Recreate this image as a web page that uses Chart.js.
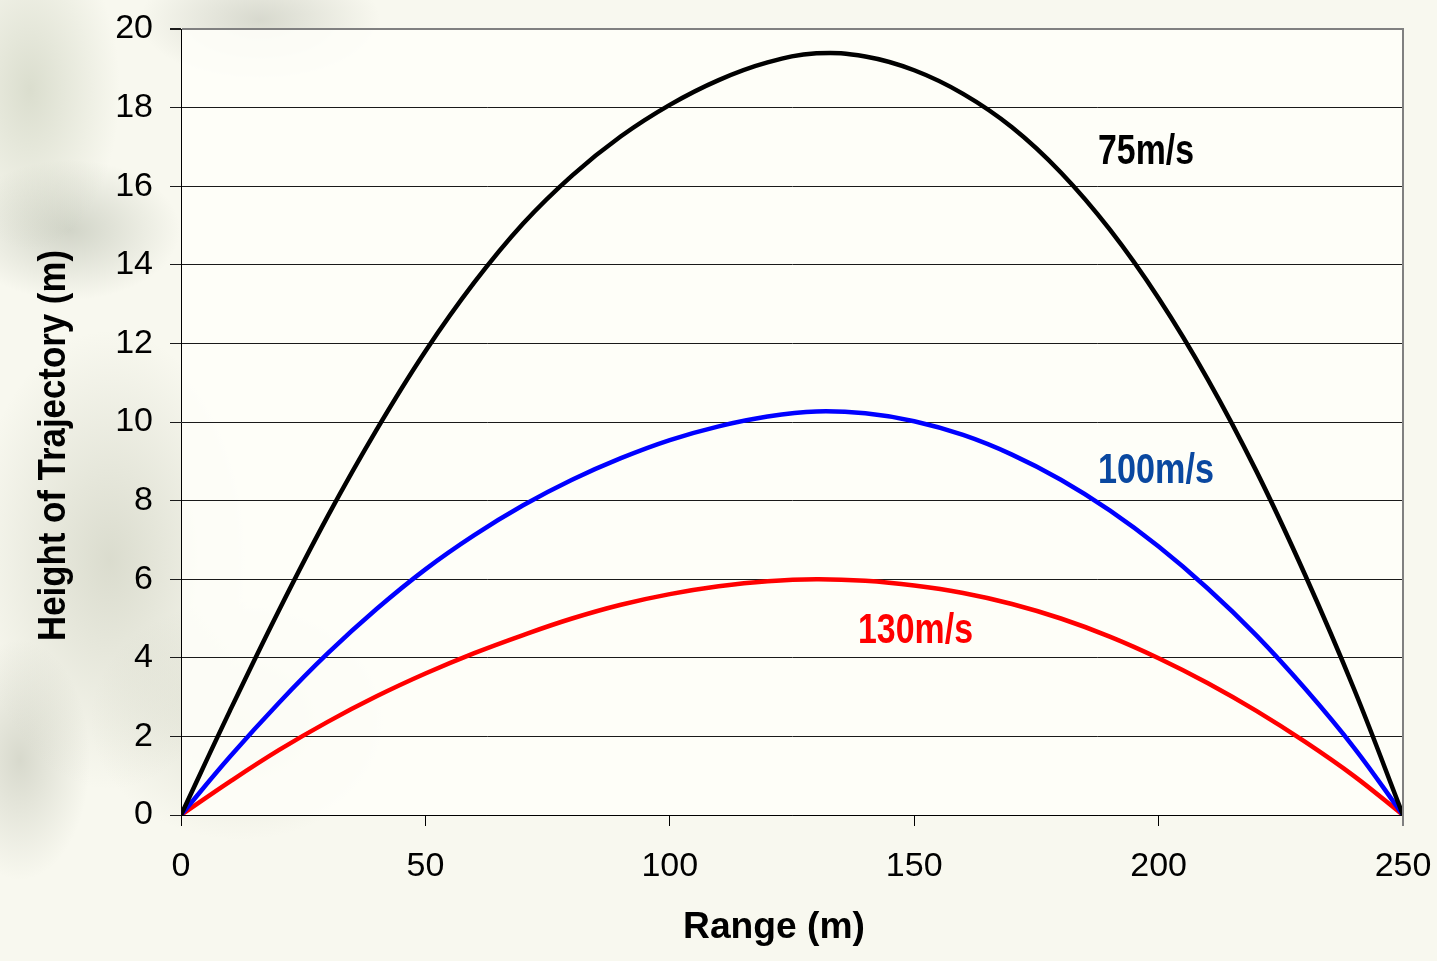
<!DOCTYPE html>
<html>
<head>
<meta charset="utf-8">
<script src="https://cdn.jsdelivr.net/npm/chart.js@4/dist/chart.umd.min.js"></script>
<style>
  html, body { margin: 0; padding: 0; }
  body {
    width: 1437px; height: 961px; overflow: hidden;
    background:
      radial-gradient(ellipse 90px 160px at 30px 90px, rgba(150,160,130,0.30), rgba(150,160,130,0) 100%),
      radial-gradient(ellipse 120px 60px at 260px 20px, rgba(140,145,130,0.30), rgba(140,145,130,0) 100%),
      radial-gradient(ellipse 110px 70px at 70px 230px, rgba(120,130,110,0.30), rgba(120,130,110,0) 100%),
      radial-gradient(ellipse 140px 230px at 110px 560px, rgba(150,155,130,0.30), rgba(150,155,130,0) 100%),
      radial-gradient(ellipse 70px 120px at 20px 760px, rgba(140,145,125,0.30), rgba(140,145,125,0) 100%),
      radial-gradient(ellipse 150px 120px at 240px 720px, rgba(160,165,140,0.25), rgba(160,165,140,0) 100%),
      #F8F8EF;
  }
  #wrap { position: absolute; left: 0; top: 0; width: 1437px; height: 961px; }
</style>
</head>
<body>
<div id="wrap"><canvas id="c"></canvas></div>
<script>
// ---- data ----
const rangeX = [0, 10, 20, 30, 40, 50, 60, 70, 80, 90, 100, 110, 120, 130, 140, 150, 160, 170, 180, 190, 200, 210, 220, 230, 240, 250];
const height75 = [0, 2.65, 5.2, 7.6, 9.8, 11.8, 13.55, 15.05, 16.27, 17.27, 18.07, 18.7, 19.15, 19.38, 19.3, 18.95, 18.35, 17.5, 16.35, 14.9, 13.15, 11.1, 8.75, 6.1, 3.2, 0];
const height100 = [0, 1.48, 2.85, 4.11, 5.24, 6.25, 7.12, 7.88, 8.53, 9.08, 9.54, 9.89, 10.14, 10.27, 10.22, 10.02, 9.67, 9.17, 8.53, 7.75, 6.83, 5.77, 4.57, 3.21, 1.71, 0];
const height130 = [0, 0.85, 1.65, 2.37, 3.02, 3.6, 4.12, 4.58, 5.0, 5.35, 5.62, 5.82, 5.95, 6.0, 5.96, 5.84, 5.65, 5.37, 5.0, 4.54, 3.99, 3.36, 2.65, 1.86, 0.99, 0];
const seriesNames = ['75m/s', '100m/s', '130m/s'];
const xTicks = [0, 50, 100, 150, 200, 250];
const yTicks = [0, 2, 4, 6, 8, 10, 12, 14, 16, 18, 20];
const xTitle = 'Range (m)';
const yTitle = 'Height of Trajectory (m)';
// label anchor points (data coords: left edge x, baseline y)
const labelX = [187.6, 187.6, 138.5];
const labelY = [16.56, 8.45, 4.38];

const toPts = ys => rangeX.map((x, i) => ({ x: x, y: ys[i] }));

function drawScaled(ctx, text, x, y, size, color, width, align, rot) {
  ctx.save();
  ctx.font = 'bold ' + size + 'px "Liberation Sans", Arial, sans-serif';
  const w = ctx.measureText(text).width;
  ctx.translate(x, y);
  if (rot) ctx.rotate(rot);
  ctx.scale(width / w, 1);
  ctx.textAlign = align;
  ctx.textBaseline = 'alphabetic';
  ctx.fillStyle = color;
  ctx.fillText(text, 0, 0);
  ctx.restore();
}

const decor = {
  id: 'decor',
  beforeDraw(chart) {
    const { ctx, chartArea: a } = chart;
    ctx.save();
    ctx.fillStyle = 'rgba(254,254,248,0.9)';
    ctx.fillRect(a.left, a.top, a.right - a.left, a.bottom - a.top);
    ctx.restore();
  },
  afterDatasetsDraw(chart) {
    const { ctx, chartArea: a, scales } = chart;
    ctx.save();
    ctx.strokeStyle = '#808080';
    ctx.lineWidth = 2;
    ctx.beginPath();
    ctx.moveTo(a.right, a.top - 1);
    ctx.lineTo(a.right, a.bottom + 11);
    ctx.stroke();
    ctx.restore();
    const colors = ['#000000', '#0A48A0', '#FF0000'];
    const widths = [96, 116, 115];
    seriesNames.forEach((n, i) => {
      drawScaled(ctx, n, scales.x.getPixelForValue(labelX[i]), scales.y.getPixelForValue(labelY[i]),
        43, colors[i], widths[i], 'left', 0);
    });
    drawScaled(ctx, xTitle, 774, 938, 36, '#000', 182, 'center', 0);
    drawScaled(ctx, yTitle, 65, 445.5, 39.5, '#000', 391, 'center', -Math.PI / 2);
  }
};

const zeroPad = s => { s.paddingLeft = 0; s.paddingRight = 0; s.paddingTop = 0; s.paddingBottom = 0; };

new Chart(document.getElementById('c'), {
  type: 'line',
  data: {
    datasets: [
      { label: seriesNames[0], data: toPts(height75), borderColor: '#000000', borderWidth: 4.5 },
      { label: seriesNames[1], data: toPts(height100), borderColor: '#0000FF', borderWidth: 4.5 },
      { label: seriesNames[2], data: toPts(height130), borderColor: '#FF0000', borderWidth: 4.5 }
    ].map(d => Object.assign(d, { pointRadius: 0, fill: false, tension: 0.4 }))
  },
  options: {
    responsive: true,
    maintainAspectRatio: false,
    animation: false,
    events: [],
    layout: { padding: { left: 0, top: 29, right: 34, bottom: 0 } },
    plugins: { legend: { display: false }, tooltip: { enabled: false }, title: { display: false } },
    scales: {
      x: {
        type: 'linear', min: 0, max: 250,
        afterBuildTicks: s => { s.ticks = xTicks.map(v => ({ value: v })); },
        afterFit: s => { s.height = 146; zeroPad(s); },
        grid: { drawOnChartArea: false, drawTicks: true, tickLength: 11, tickColor: '#000', tickWidth: 1 },
        border: { display: true, color: '#000', width: 1 },
        ticks: { color: '#000', padding: 20, maxRotation: 0, autoSkip: false,
                 font: { family: '"Liberation Sans", Arial, sans-serif', size: 34 } }
      },
      y: {
        type: 'linear', min: 0, max: 20,
        afterBuildTicks: s => { s.ticks = yTicks.map(v => ({ value: v })); },
        afterFit: s => { s.width = 181; zeroPad(s); },
        grid: {
          drawOnChartArea: true, drawTicks: true, tickLength: 11,
          color: c => (c.tick && c.tick.value === 20) ? '#808080' : '#1a1a1a',
          lineWidth: c => (c.tick && c.tick.value === 20) ? 2 : 1,
          tickColor: '#1a1a1a'
        },
        border: { display: true, color: '#000', width: 1 },
        ticks: { color: '#000', padding: 17, autoSkip: false,
                 font: { family: '"Liberation Sans", Arial, sans-serif', size: 34 } }
      }
    }
  },
  plugins: [decor]
});
</script>
</body>
</html>
